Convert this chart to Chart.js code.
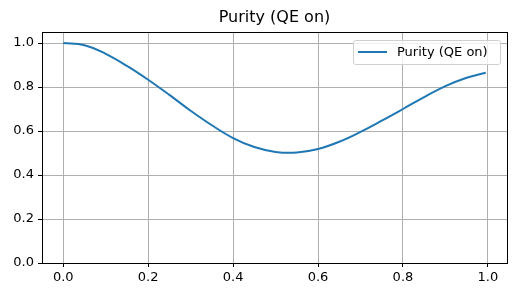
<!DOCTYPE html>
<html>
<head>
<meta charset="utf-8">
<script src="https://cdn.jsdelivr.net/npm/chart.js@4/dist/chart.umd.min.js"></script>
<style>
  html, body { margin: 0; padding: 0; background: #fff; }
  #wrap { width: 516px; height: 297px; }
</style>
</head>
<body>
<div id="wrap"><canvas id="myChart" width="516" height="297"></canvas></div>
<script>
// valori
const titolo = 'Purity (QE on)';
const etichetta = 'Purity (QE on)';
const tempi = [0, 0.05, 0.1, 0.15, 0.2, 0.25, 0.3, 0.35, 0.4, 0.45, 0.5, 0.55, 0.6, 0.65, 0.7, 0.75, 0.8, 0.85, 0.9, 0.95, 0.995];
const purezza = [1.0, 0.99, 0.951, 0.896, 0.833, 0.764, 0.692, 0.626, 0.568, 0.527, 0.505, 0.502, 0.518, 0.551, 0.596, 0.647, 0.700, 0.754, 0.804, 0.842, 0.865];
const tickX = [0, 0.2, 0.4, 0.6, 0.8, 1.0];
const tickY = [0, 0.2, 0.4, 0.6, 0.8, 1.0];

const font = 'DejaVu Sans';

// titolo, bordo degli assi e legenda stile matplotlib
const decorazioni = {
  id: 'decorazioni',
  afterDraw(chart) {
    const ctx = chart.ctx;
    const a = chart.chartArea;
    ctx.save();
    ctx.strokeStyle = '#000';
    ctx.lineWidth = 1;
    ctx.strokeRect(Math.round(a.left) + 0.5, Math.round(a.top) + 0.5, Math.round(a.right - a.left), Math.round(a.bottom - a.top));

    ctx.fillStyle = '#000';
    ctx.font = '16px "' + font + '"';
    ctx.textAlign = 'center';
    ctx.textBaseline = 'middle';
    ctx.fillText(titolo, (a.left + a.right) / 2, 18);

    // legenda
    const bx = 353.5, by = 40.5, bw = 147, bh = 24;
    ctx.fillStyle = 'rgba(255,255,255,0.8)';
    ctx.strokeStyle = '#d0d0d0';
    ctx.beginPath();
    ctx.roundRect(bx, by, bw, bh, 2);
    ctx.fill();
    ctx.stroke();
    ctx.strokeStyle = '#1f77b4';
    ctx.lineWidth = 2;
    ctx.beginPath();
    ctx.moveTo(358, 52);
    ctx.lineTo(387, 52);
    ctx.stroke();
    ctx.fillStyle = '#000';
    ctx.font = '13px "' + font + '"';
    ctx.textAlign = 'left';
    ctx.fillText(etichetta, 397, 52.5);
    ctx.restore();
  }
};

function creaGrafico() {
  const ctx = document.getElementById('myChart').getContext('2d');
  const punti = tempi.map((t, i) => ({ x: t, y: purezza[i] }));
  new Chart(ctx, {
    type: 'line',
    data: {
      datasets: [{
        label: etichetta,
        data: punti,
        borderColor: '#1f77b4',
        borderWidth: 2,
        pointRadius: 0,
        fill: false,
        tension: 0.4
      }]
    },
    options: {
      responsive: false,
      animation: false,
      layout: { padding: { top: 32, right: 9, left: 0, bottom: 0 } },
      plugins: {
        legend: { display: false },
        title: { display: false },
        tooltip: { enabled: false }
      },
      scales: {
        x: {
          type: 'linear',
          min: -0.05,
          max: 1.045,
          afterBuildTicks: s => { s.ticks = tickX.map(v => ({ value: v })); },
          afterFit: s => { s.height = 34; },
          grid: { color: '#b0b0b0', lineWidth: 1, tickColor: '#000', tickLength: 4 },
          border: { display: false },
          ticks: { color: '#000', font: { family: font, size: 13 }, padding: 3, maxRotation: 0,
            callback: v => v.toFixed(1) }
        },
        y: {
          min: 0,
          max: 1.05,
          afterBuildTicks: s => { s.ticks = tickY.map(v => ({ value: v })); },
          afterFit: s => { s.width = 42; },
          grid: { color: '#b0b0b0', lineWidth: 1, tickColor: '#000', tickLength: 4 },
          border: { display: false },
          ticks: { color: '#000', font: { family: font, size: 13 }, padding: 4,
            callback: v => v.toFixed(1) }
        }
      }
    },
    plugins: [decorazioni]
  });
}

creaGrafico();
</script>
</body>
</html>
